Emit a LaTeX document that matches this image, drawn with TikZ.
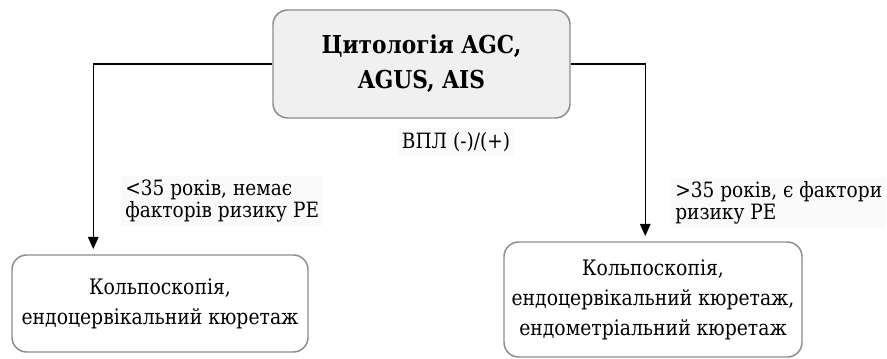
\documentclass[tikz,border=0pt]{standalone}
\usepackage{fontspec}
\setmainfont{DejaVu Serif}[FakeStretch=0.88]
\usetikzlibrary{arrows.meta,positioning,calc}

\begin{document}
\begin{tikzpicture}[x=0.75pt, y=-0.75pt,
    topbox/.style={draw=gray!90, line width=1.1pt, fill=gray!12, rounded corners=11pt,
                   minimum width=222.75pt, minimum height=81pt, align=center,
                   font=\fontsize{18.5}{26}\selectfont\bfseries},
    cbox/.style={draw=gray!90, line width=1.1pt, fill=white, rounded corners=11pt,
                 align=center, font=\fontsize{16}{22.5}\selectfont},
    lbl/.style={fill=gray!4, inner sep=3pt, align=left, font=\fontsize{15.8}{16.5}\selectfont},
    arr/.style={-{Triangle[length=9pt,width=8pt]}, line width=0.8pt, black, shorten >=4pt},
]
\useasboundingbox (0,0) rectangle (887,359);

% Top box
\node[topbox] (cyto) at (421.5,64) {Цитологія AGC,\\AGUS, AIS};
\node[lbl, align=center] (hpv) at (456,142) {ВПЛ (-)/(+)};

% Bottom row
\node[cbox, minimum width=222pt, minimum height=72.75pt] (colpo) at (160,303.5)
    {Кольпоскопія,\\ендоцервікальний кюретаж};
\node[cbox, minimum width=223.5pt, minimum height=86.25pt] (colpoend) at (653,299.5)
    {Кольпоскопія,\\ендоцервікальний кюретаж,\\ендометріальний кюретаж};

% Branch labels
\node[lbl, anchor=west] (young) at (121,201) {<35 років, немає\\факторів ризику РЕ};
\node[lbl, anchor=west] (old) at (671,203) {>35 років, є фактори\\ризику РЕ};

% Connecting arrows
\draw[arr] (cyto.west) -| ([xshift=61.5pt]colpo.north west);
\draw[arr] (cyto.east) -| ([xshift=106.5pt]colpoend.north west);
\end{tikzpicture}
\end{document}
